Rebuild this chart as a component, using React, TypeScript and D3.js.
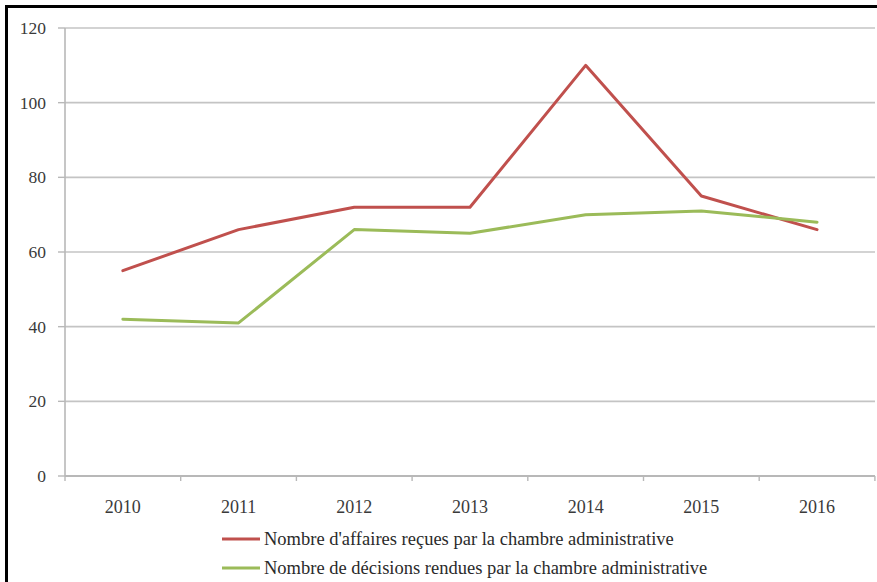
import React from "react";
import * as d3 from "d3";

const years = ["2010", "2011", "2012", "2013", "2014", "2015", "2016"];
const affairesRecues = [55, 66, 72, 72, 110, 75, 66];
const decisionsRendues = [42, 41, 66, 65, 70, 71, 68];
const yTicks = [0, 20, 40, 60, 80, 100, 120];
const seriesNames = [
  "Nombre d'affaires reçues par la chambre administrative",
  "Nombre de décisions rendues par la chambre administrative",
];
const seriesColors = ["#c0504d", "#9bbb59"];

const W = 877;
const H = 582;
const plotLeft = 65;
const plotRight = 875;
const plotTop = 28;
const plotBottom = 476;
const font = '"Liberation Serif", "DejaVu Serif", serif';

export default function App() {
  const x = d3.scaleBand<string>().domain(years).range([plotLeft, plotLeft + 7 * 115.7]);
  const y = d3.scaleLinear().domain([0, 120]).range([plotBottom, plotTop]);
  const line = d3
    .line<number>()
    .x((_, i) => (x(years[i]) as number) + x.bandwidth() / 2)
    .y((d) => y(d));
  const series = [affairesRecues, decisionsRendues];
  const boundaries = d3.range(years.length + 1).map((i) => plotLeft + i * x.step());
  const ts = { fontFamily: font };

  return (
    <svg
      width={W}
      height={H}
      style={{ position: "absolute", left: 0, top: 0, background: "#fff", fontFamily: font }}
    >
      <rect x={0} y={0} width={W} height={H} fill="#fff" />
      <rect x={6.5} y={6.5} width={W + 20} height={H + 20} fill="none" stroke="#000" strokeWidth={3} />
      {yTicks.map((t) => (
        <g key={t}>
          <line x1={plotLeft} x2={plotRight} y1={y(t)} y2={y(t)} stroke="#c4c4c4" strokeWidth={1.6} />
          <line x1={plotLeft - 7} x2={plotLeft} y1={y(t)} y2={y(t)} stroke="#b8b8b8" strokeWidth={1.4} />
          <text x={46} y={y(t)} textAnchor="end" dominantBaseline="central" fontSize={17.5} fill="#3a3a3a" style={ts}>
            {t}
          </text>
        </g>
      ))}
      <line x1={plotLeft} x2={plotLeft} y1={plotTop} y2={plotBottom} stroke="#b8b8b8" strokeWidth={1.6} />
      <line x1={plotLeft} x2={plotRight} y1={plotBottom} y2={plotBottom} stroke="#b8b8b8" strokeWidth={1.8} />
      {boundaries.map((b, i) => (
        <line key={i} x1={b} x2={b} y1={plotBottom} y2={plotBottom + 5} stroke="#b8b8b8" strokeWidth={1.4} />
      ))}
      {years.map((yr) => (
        <text
          key={yr}
          x={(x(yr) as number) + x.bandwidth() / 2}
          y={513}
          textAnchor="middle"
          fontSize={18}
          fill="#3a3a3a"
          style={ts}
        >
          {yr}
        </text>
      ))}
      {series.map((s, i) => (
        <path
          key={i}
          d={line(s) as string}
          fill="none"
          stroke={seriesColors[i]}
          strokeWidth={3}
          strokeLinejoin="round"
          strokeLinecap="round"
        />
      ))}
      {seriesNames.map((n, i) => (
        <g key={n}>
          <line x1={222} x2={260} y1={539 + i * 29} y2={539 + i * 29} stroke={seriesColors[i]} strokeWidth={3} />
          <text x={264} y={539 + i * 29} dominantBaseline="central" fontSize={18.5} fill="#2a2a2a" style={ts}>
            {n}
          </text>
        </g>
      ))}
    </svg>
  );
}
